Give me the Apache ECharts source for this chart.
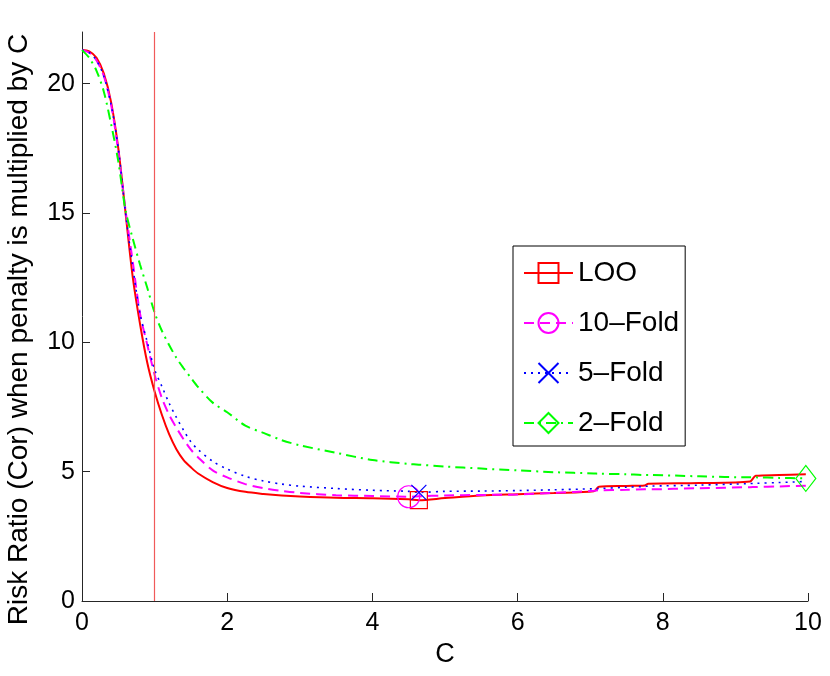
<!DOCTYPE html>
<html>
<head>
<meta charset="utf-8">
<script src="https://cdn.jsdelivr.net/npm/echarts@6/dist/echarts.min.js"></script>
<style>
  html, body { margin: 0; padding: 0; background: #fff; }
  #chart { width: 830px; height: 676px; }
</style>
</head>
<body>
<div id="chart"></div>
<script>
// 数据：横轴 C 以及四条曲线
var cVals = [0, 0.1, 0.2, 0.3, 0.4, 0.5, 0.6, 0.7, 0.8, 0.9,
    1.0, 1.1, 1.2, 1.3, 1.4, 1.5, 1.6, 1.8, 2.0, 2.25,
    2.5, 2.75, 3.0, 3.5, 4.0, 4.5, 4.64, 5.0, 5.5, 6.0,
    6.5, 7.05, 7.12, 7.5, 7.75, 7.8, 8.5, 9.2, 9.28, 9.6, 9.97];
var loo = [21.3, 21.25, 21.0, 20.4, 19.3, 17.5, 15.0, 12.5, 10.7, 9.2,
    8.1, 7.2, 6.45, 5.87, 5.45, 5.17, 4.93, 4.6, 4.37, 4.22,
    4.14, 4.08, 4.04, 3.99, 3.97, 3.93, 3.9, 3.98, 4.08, 4.13,
    4.18, 4.24, 4.42, 4.45, 4.47, 4.53, 4.56, 4.62, 4.84, 4.87, 4.9];
var fold10 = [21.3, 21.2, 20.9, 20.3, 19.2, 17.4, 15.1, 13.1, 11.1, 9.9,
    8.75, 7.85, 7.2, 6.7, 6.25, 5.85, 5.55, 5.05, 4.78, 4.52,
    4.36, 4.26, 4.18, 4.09, 4.06, 4.03, 4.05, 4.08, 4.1, 4.12,
    4.18, 4.26, 4.28, 4.3, 4.32, 4.32, 4.36, 4.4, 4.41, 4.43, 4.46];
var fold5 = [21.3, 21.2, 20.9, 20.3, 19.2, 17.5, 15.0, 12.9, 11.1, 10.0,
    8.95, 8.3, 7.65, 7.1, 6.6, 6.15, 5.85, 5.4, 5.1, 4.82,
    4.64, 4.52, 4.44, 4.35, 4.28, 4.24, 4.2, 4.24, 4.25, 4.27,
    4.3, 4.34, 4.35, 4.4, 4.43, 4.44, 4.48, 4.54, 4.55, 4.58, 4.62];
var fold2 = [21.3, 21.0, 20.5, 19.7, 18.45, 17.0, 15.1, 14.0, 13.0, 12.1,
    11.15, 10.45, 9.9, 9.4, 9.0, 8.63, 8.27, 7.67, 7.3, 6.78,
    6.5, 6.22, 6.02, 5.73, 5.45, 5.3, 5.27, 5.2, 5.12, 5.05,
    4.98, 4.93, 4.92, 4.9, 4.87, 4.87, 4.82, 4.78, 4.78, 4.76, 4.74];
var names = ['LOO', '10–Fold', '5–Fold', '2–Fold'];
var yTicks = [0, 5, 10, 15, 20];
var chosenC = 1;

var FONT = 'Liberation Sans';

function pairs(vals) {
    return cVals.map(function (c, i) { return [c, vals[i]]; });
}
function argmin(vals) {
    var k = 0;
    for (var i = 1; i < vals.length; i++) { if (vals[i] < vals[k]) k = i; }
    return k;
}
function makeSeries(name, vals, color, lineType, width, symbol, size) {
    var k = argmin(vals);
    return {
        name: name,
        type: 'line',
        data: pairs(vals),
        smooth: 0.3,
        showAllSymbol: true,
        symbol: symbol,
        symbolSize: function (v, p) { return p.dataIndex === k ? size : 0; },
        lineStyle: { color: color, width: width, type: lineType },
        itemStyle: { color: 'rgba(0,0,0,0)', borderColor: color, borderWidth: 1.2 },
        emphasis: { disabled: true },
        z: 3
    };
}

var myChart = echarts.init(document.getElementById('chart'));

var series = [
    makeSeries(names[0], loo, '#ff0000', 'solid', 2, 'rect', 17),
    makeSeries(names[1], fold10, '#ff00ff', [10, 6], 2, 'circle', 22),
    makeSeries(names[2], fold5, '#0000ff', [2, 5], 1.6, 'path://M0,0L10,10M10,0L0,10', 15),
    makeSeries(names[3], fold2, '#00ff00', [10, 5, 2, 5], 2, 'diamond', [20, 26])
];
// C = 1 处的竖线
series[0].markLine = {
    silent: true,
    symbol: 'none',
    label: { show: false },
    lineStyle: { color: '#f05a5a', width: 1.2, type: 'solid' },
    data: [{ xAxis: chosenC }]
};

var option = {
    animation: false,
    backgroundColor: '#fff',
    grid: { left: 82, right: 22, top: 32, bottom: 75, outerBoundsMode: 'none' },
    legend: {
        data: names,
        orient: 'vertical',
        left: 513,
        top: 246,
        padding: [13, 6, 9, 10],
        itemWidth: 49,
        itemHeight: 25,
        itemGap: 22,
        borderColor: '#000',
        borderWidth: 1,
        backgroundColor: '#fff',
        textStyle: { fontFamily: FONT, fontSize: 28, color: '#000' }
    },
    xAxis: {
        type: 'value',
        min: 0,
        max: 10,
        interval: 2,
        name: 'C',
        nameLocation: 'middle',
        nameGap: 38,
        nameTextStyle: { fontFamily: FONT, fontSize: 27, color: '#000' },
        axisLine: { lineStyle: { color: '#262626', width: 1 } },
        axisTick: { inside: true, length: 8, lineStyle: { color: '#262626' } },
        axisLabel: { fontFamily: FONT, fontSize: 25, color: '#000', margin: 10 },
        splitLine: { show: false }
    },
    yAxis: {
        type: 'value',
        min: 0,
        max: 22,
        name: 'Risk Ratio (Cor) when penalty is multiplied by C',
        nameLocation: 'middle',
        nameGap: 49,
        nameTextStyle: { fontFamily: FONT, fontSize: 28, color: '#000', padding: [0, 26, 0, 0] },
        axisLine: { show: true, lineStyle: { color: '#262626', width: 1 } },
        axisTick: { show: true, inside: true, length: 8, customValues: yTicks, lineStyle: { color: '#262626' } },
        axisLabel: { fontFamily: FONT, fontSize: 25, color: '#000', margin: 7, customValues: yTicks },
        splitLine: { show: false }
    },
    series: series
};

myChart.setOption(option);
</script>
</body>
</html>
